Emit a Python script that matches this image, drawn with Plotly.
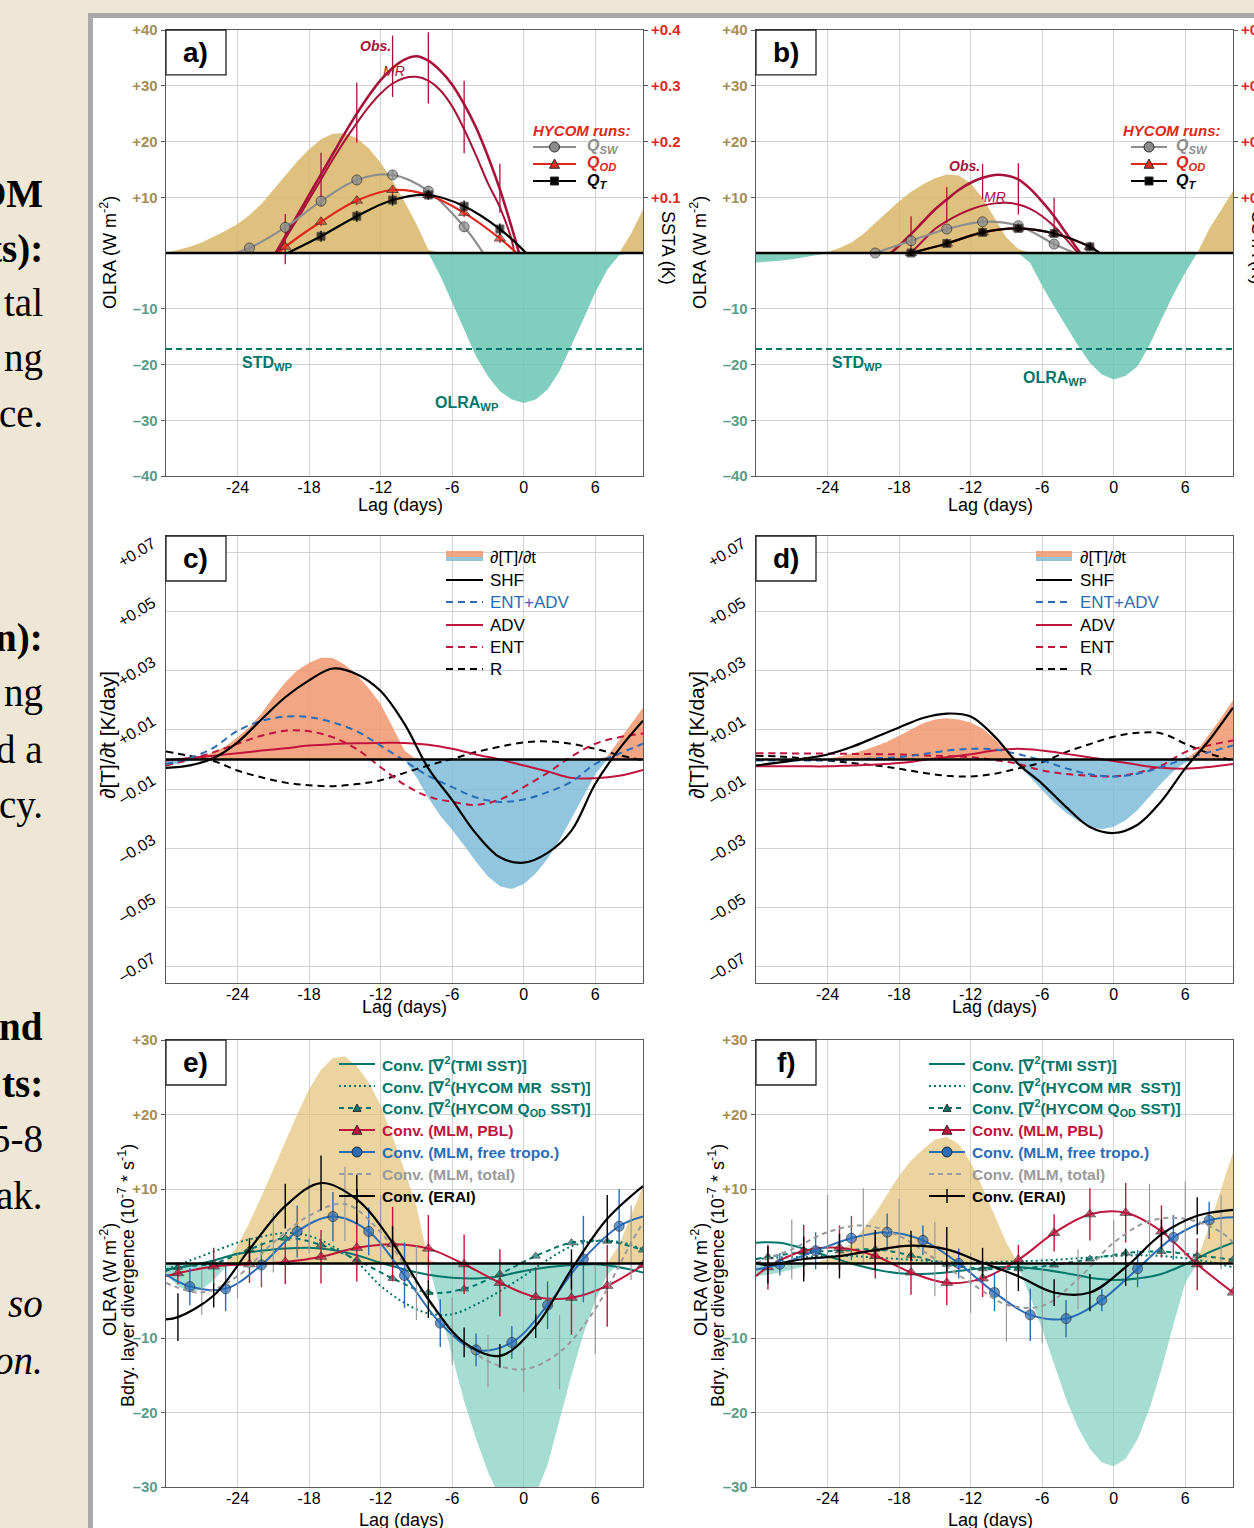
import plotly.graph_objects as go

W, H = 1254, 1528
FONT = "Liberation Sans, Arial, Helvetica, sans-serif"
SERIF = "Liberation Serif, Times New Roman, serif"


def fx(p):
    return p / W


def fy(p):
    return 1 - p / H


# ------------------------------------------------------------------ data
LAG1 = list(range(-30, 11))
LAG2 = list(range(-30, 11, 2))
LAG_TICKS = [-24, -18, -12, -6, 0, 6]
LAG_TICKTEXT = ["-24", "-18", "-12", "-6", "0", "6"]

OLRA_TICKS = [-40, -30, -20, -10, 10, 20, 30, 40]
OLRA_TICKTEXT = ["–40", "–30", "–20", "–10", "+10", "+20", "+30", "+40"]
SSTA_TICKS = [0.1, 0.2, 0.3, 0.4]
SSTA_TICKTEXT = ["+0.1", "+0.2", "+0.3", "+0.4"]
DTDT_TICKS = [-0.07, -0.05, -0.03, -0.01, 0.01, 0.03, 0.05, 0.07]
DTDT_TICKTEXT = ["–0.07", "–0.05", "–0.03", "–0.01", "+0.01", "+0.03", "+0.05", "+0.07"]
CONV_TICKS = [-30, -20, -10, 10, 20, 30]
CONV_TICKTEXT = ["–30", "–20", "–10", "+10", "+20", "+30"]

STD_WP = -17.2

# panel a  (OLRA W m-2, daily, lag -30..10)
olra_a = [0, 0.5, 1.1, 1.9, 2.9, 4.0, 5.2, 6.8, 8.8, 11.3, 13.9, 16.4, 18.6, 20.4,
          21.4, 21.5, 20.6, 18.8, 16.2, 12.9, 9.2, 5.2, 0.6, -4.1, -8.9, -13.7,
          -18.5, -22.1, -24.8, -26.3, -26.9, -26.3, -24.5, -21.2, -16.7, -11.9,
          -7.1, -3.0, -0.4, 3.5, 7.8]
# SSTA (K)
obs_a_x = [-20.8, -20, -19, -18, -17, -16, -15, -14, -13, -12, -11, -10, -9, -8,
           -7, -6, -5, -4, -3, -2, -1, -0.4]
obs_a = [0, .030, .067, .104, .141, .178, .215, .250, .282, .310, .332, .347, .353,
         .345, .327, .302, .267, .225, .173, .114, .045, 0]
mr_a_x = [-20.6, -20, -19, -18, -17, -16, -15, -14, -13, -12, -11, -10, -9, -8,
          -7, -6, -5, -4, -3, -2, -1, -0.8]
mr_a = [0, .025, .060, .096, .132, .168, .202, .233, .262, .286, .304, .314, .316,
        .309, .292, .263, .222, .175, .125, .082, .022, 0]
obs_err_a_x = [-20, -17, -14, -11, -8, -5, -2]
obs_err_a = [.025, .132, .252, .335, .332, .244, .116]
obs_err_a_len = [.045, .048, .054, .055, .064, .065, .044]
qsw_a_x = [-24.2, -23, -20, -17, -14, -11, -8, -5, -3.4]
qsw_a = [0, .009, .046, .093, .131, .140, .111, .047, 0]
qsw_a_err = [0, .006, .008, .008, .008, .008, .008, .008, 0]
qod_a_x = [-20.6, -20, -17, -14, -11, -8, -5, -2, -0.6]
qod_a = [0, .011, .056, .094, .113, .104, .072, .026, 0]
qod_a_err = [0, .01, .008, .008, .008, .008, .008, .008, 0]
qt_a_x = [-19.8, -17, -14, -11, -8, -5, -2, 0.2]
qt_a = [0, .030, .066, .095, .104, .084, .043, 0]
qt_a_err = [0, .010, .010, .010, .008, .010, .010, 0]

# panel b
olra_b = [-1.7, -1.6, -1.4, -1.1, -0.8, -0.4, 0.2, 0.9, 1.9, 3.4, 5.4, 7.4, 9.3, 11.0,
          12.3, 13.4, 14.1, 13.9, 12.5, 9.8, 6.2, 2.8, 0.7, -1.8, -5.9, -9.6, -13.1,
          -16.6, -19.7, -21.8, -22.7, -22.0, -20.3, -16.5, -11.9, -7.5, -3.5, 0.0,
          4.3, 7.8, 11.1]
obs_b_x = [-18.7, -18, -17, -16, -15, -14, -13, -12, -11, -10, -9, -8, -7, -6, -5,
           -4, -3, -2.8]
obs_b = [0, .013, .034, .056, .078, .096, .113, .126, .135, .140, .139, .132, .115,
         .092, .066, .036, .006, 0]
mr_b_x = [-17, -16, -15, -14, -13, -12, -11, -10, -9, -8, -7, -6, -5, -4, -3]
mr_b = [0, .022, .043, .057, .069, .078, .085, .089, .090, .087, .079, .066, .048,
        .025, 0]
obs_err_b_x = [-17, -14, -11, -8, -5]
obs_err_b = [.033, .086, .128, .115, .068]
obs_err_b_len = [.033, .032, .032, .046, .031]
qsw_b_x = [-20, -17, -14, -11, -8, -5, -3.3]
qsw_b = [0, .022, .043, .056, .049, .016, 0]
qsw_b_err = [.004, .006, .006, .006, .006, .006, 0]
qt_b_x = [-17, -14, -11, -8, -5, -2, -1.2]
qt_b = [0, .017, .037, .044, .035, .011, 0]
qt_b_err = [.005, .006, .006, .006, .006, .006, 0]
qod_b_x = qt_b_x
qod_b = qt_b

# panel c  (K/day)
dtdt_c = [-0.002, -0.0015, -0.0005, 0.001, 0.0025, 0.0045, 0.0075, 0.011, 0.0155,
          0.021, 0.026, 0.030, 0.0326, 0.0343, 0.0342, 0.032, 0.0285, 0.024, 0.0187,
          0.011, 0.003, -0.006, -0.013, -0.019, -0.0238, -0.029, -0.0345, -0.0395,
          -0.0428, -0.0437, -0.042, -0.0385, -0.0335, -0.0272, -0.020, -0.0125,
          -0.005, 0.001, 0.0065, 0.012, 0.0175]
shf_c = [-0.0028, -0.002, 0.0005, 0.0058, 0.0135, 0.021, 0.0267, 0.0307, 0.0288,
         0.0231, 0.012, -0.003, -0.0137, -0.025, -0.033, -0.0348, -0.0315, -0.024,
         -0.0082, 0.0035, 0.0131]
entadv_c = [-0.0015, 0.0005, 0.004, 0.0097, 0.013, 0.0145, 0.0143, 0.0125, 0.0095,
            0.0047, -0.0005, -0.0055, -0.0093, -0.0128, -0.0143, -0.0135, -0.011,
            -0.0075, -0.0015, 0.002, 0.0053]
adv_c = [-0.0003, 0.0005, 0.0013, 0.0021, 0.003, 0.0038, 0.0047, 0.0052, 0.0055,
         0.0056, 0.0056, 0.005, 0.0036, 0.0017, 0.0, -0.002, -0.004, -0.0062, -0.0063,
         -0.0055, -0.0035]
ent_c = [-0.002, 0.0, 0.0025, 0.0053, 0.008, 0.0097, 0.0095, 0.0075, 0.0035, -0.0026,
         -0.0085, -0.0125, -0.0143, -0.0153, -0.0135, -0.0093, -0.0045, 0.001, 0.0053,
         0.0075, 0.0088]
r_c = [0.0027, 0.0012, -0.0005, -0.0037, -0.006, -0.0078, -0.0087, -0.009, -0.0083,
       -0.007, -0.0045, -0.002, 0.0002, 0.0025, 0.0043, 0.0058, 0.0061, 0.0053, 0.0036,
       0.0015, -0.0003]

# panel d
dtdt_d = [0.0, 0.0, 0.0, 0.0, 0.0, 0.0, 0.0002, 0.001, 0.002, 0.003, 0.0045, 0.006,
          0.008, 0.010, 0.0122, 0.0135, 0.0139, 0.0135, 0.0125, 0.0105, 0.007, 0.0025,
          -0.002, -0.006, -0.0104, -0.0145, -0.018, -0.0207, -0.0227, -0.0235, -0.0227,
          -0.0205, -0.017, -0.0126, -0.008, -0.004, -0.001, 0.003, 0.0085, 0.014, 0.020]
shf_d = [-0.002, -0.001, 0.0003, 0.0017, 0.0042, 0.0075, 0.0108, 0.014, 0.0155,
         0.0145, 0.0078, -0.0015, -0.0082, -0.016, -0.0228, -0.0248, -0.022, -0.014,
         -0.003, 0.0065, 0.0175]
entadv_d = [-0.0003, -0.0003, -0.0003, -0.0003, 0.0, 0.0004, 0.0008, 0.0018, 0.003,
            0.0036, 0.0034, 0.0018, -0.0003, -0.003, -0.005, -0.0057, -0.0048, -0.0025,
            0.0002, 0.0025, 0.0047]
adv_d = [-0.0023, -0.0023, -0.0023, -0.0023, -0.002, -0.0017, -0.0012, -0.0002, 0.0008,
         0.0018, 0.003, 0.0036, 0.003, 0.0019, 0.0007, -0.0005, -0.0018, -0.0028,
         -0.0031, -0.0025, -0.0015]
ent_d = [0.0021, 0.0021, 0.002, 0.002, 0.0019, 0.0018, 0.0017, 0.0014, 0.0011, 0.0008,
         -0.0002, -0.0015, -0.0037, -0.0049, -0.0055, -0.0057, -0.0045, -0.002, 0.0025,
         0.0048, 0.0064]
r_d = [0.0013, 0.001, 0.0004, -0.0003, -0.0012, -0.002, -0.0031, -0.0045, -0.0055,
       -0.0057, -0.0048, -0.003, -0.0009, 0.0025, 0.0052, 0.0077, 0.009, 0.0088, 0.0053,
       0.002, -0.0003]

# panel e
olra_e = [-1.5, -3.0, -3.9, -3.5, -2.2, -0.5, 2.4, 5.5, 9.0, 12.7, 16.5, 20.0, 23.4,
          26.0, 27.6, 27.8, 26.5, 24.3, 21.2, 17.0, 12.5, 7.7, 0.5, -6.0, -12.5, -18.5,
          -23.5, -28.0, -31.5, -33.0, -33.0, -31.0, -27.0, -21.0, -15.0, -9.5, -5.0,
          -1.5, 2.5, 6.5, 10.4]
LAG3A = [-30, -29, -26, -23, -20, -17, -14, -11, -8, -5, -2, 1, 4, 7, 10]
LAG3B = [-30, -28, -25, -22, -19, -16, -13, -10, -7, -4, -1, 2, 5, 8, 10]
LAG3C = [-30, -27, -24, -21, -18, -15, -12, -9, -6, -3, 0, 3, 6, 9, 10]
erai_e = [-7.5, -7.2, -4.3, 1.9, 7.7, 10.8, 8.6, 2.8, -4.8, -10.6, -12.4, -8.4, -0.8,
          6.0, 10.4]
erai_e_err = [0, 3.2, 1.6, 1.5, 3.0, 3.7, 3.3, 2.2, 2.5, 2.0, 1.6, 1.6, 2.7, 3.2, 0]
free_e = [-1.5, -3.1, -3.4, -0.2, 4.3, 6.3, 4.3, -1.6, -8.0, -11.6, -10.6, -5.6, 0.6,
          5.0, 6.3]
free_e_err = [0, 2.5, 3.0, 3.0, 3.5, 3.3, 3.2, 4.4, 3.2, 2.2, 2.2, 3.2, 5.8, 5.0, 0]
pbl_e = [-1.7, -1.3, -0.4, -0.1, 0.2, 0.9, 2.1, 2.6, 2.0, -0.1, -2.6, -4.5, -4.6,
         -3.0, -0.2]
pbl_e_err = [0, 1.5, 2.5, 2.5, 3.0, 3.6, 4.5, 5.0, 4.5, 4.0, 4.5, 4.0, 5.0, 5.5, 0]
total_e = [-2.6, -3.9, -1.7, 2.8, 6.4, 8.0, 4.2, -2.6, -9.1, -13.1, -14.2, -11.9,
           -6.1, 2.8, 5.5]
total_e_err = [0, 3, 3, 4, 5, 5, 5, 5, 4.5, 3.5, 3, 5, 6, 5, 0]
tmi_e = [-0.8, -0.3, 0.4, 1.3, 1.7, 2.0, 2.1, 1.8, 1.1, 0.1, -0.8, -1.5, -1.9, -2.0,
         -1.7, -1.0, -0.5, -0.2, -0.1, -0.5, -1.2]
mrsst_e = [-0.8, 0.4, 1.6, 2.8, 3.6, 4.1, 3.7, 2.3, 0.2, -3.0, -5.3, -6.7, -6.8, -5.5,
           -3.7, -1.7, 0.5, 2.3, 3.0, 2.9, 1.9]
qodsst_e = [-1.0, -0.5, 0.0, 1.9, 3.4, 2.5, 0.5, -2.0, -3.9, -3.4, -1.4, 1.0, 2.8,
            3.0, 1.8]

# panel f
olra_f = [-1.7, -1.5, -1.2, -0.8, -0.3, 0.1, 0.6, 1.5, 2.8, 4.6, 6.7, 9.2, 11.8, 13.8,
          15.3, 16.6, 17.0, 16.0, 13.6, 10.2, 6.4, 2.8, -0.5, -4.5, -8.8, -13.6, -18.2,
          -22.0, -24.9, -26.7, -27.2, -26.2, -23.6, -19.5, -14.2, -8.2, -2.6, 0.4, 5.0,
          10.0, 14.9]
erai_f = [0.1, -0.2, 0.6, 1.0, 1.8, 2.4, 1.9, 0.1, -1.7, -3.9, -3.9, -0.5, 3.9, 6.4,
          7.2]
erai_f_err = [0, 2.5, 3.0, 3.0, 2.7, 2.0, 3.0, 2.0, 2.0, 1.8, 2.5, 2.5, 2.0, 2.5, 0]
free_f = [-0.8, -0.1, 1.7, 3.4, 4.2, 3.1, 0.0, -3.9, -6.9, -7.4, -4.9, -0.7, 3.5, 5.8,
          6.2]
free_f_err = [0, 1.5, 2.5, 3.0, 2.5, 2.0, 2.0, 2.5, 3.5, 2.5, 1.5, 2.5, 3.0, 2.5, 0]
pbl_f = [-1.7, -0.5, 1.7, 2.1, 1.0, -1.2, -2.6, -2.0, 0.5, 4.1, 6.6, 6.8, 4.3, -0.1,
         -3.9]
pbl_f_err = [0, 3.0, 3.5, 3.0, 3.0, 3.0, 3.0, 2.5, 2.0, 2.5, 3.5, 4.0, 3.5, 3.5, 0]
total_f = [0.1, 1.9, 4.2, 5.1, 3.7, 0.6, -2.6, -5.5, -5.7, -2.1, 2.8, 5.7, 6.0, 4.2,
           2.8]
total_f_err = [0, 4, 5, 5, 5, 5, 4, 5, 5, 4, 3, 5, 5, 5, 0]
tmi_f = [2.8, 2.8, 2.0, 1.0, 0.0, -0.8, -1.3, -1.4, -1.2, -0.8, -0.5, -0.5, -0.8, -1.3,
         -1.9, -2.2, -2.0, -1.4, -0.1, 1.5, 2.8]
mrsst_f = [0.6, 0.8, 0.9, 1.0, 1.0, 0.8, 0.6, 0.4, 0.2, 0.1, 0.2, 0.3, 0.4, 0.6, 0.8,
           1.0, 1.1, 1.0, 0.7, 0.2, -0.5]
qodsst_f = [0.6, 0.9, 1.5, 1.7, 1.9, 1.1, -0.1, -0.7, -0.7, -0.2, 0.6, 1.4, 1.6, 1.1,
            0.5]

# ------------------------------------------------------------------ style
TAN = "rgba(216,182,103,0.85)"
TEALF = "rgba(106,197,179,0.85)"
TAN_E = "rgba(222,185,102,0.62)"
TEAL_E = "rgba(110,200,183,0.62)"
ORANGE = "rgba(241,150,110,0.85)"
BLUEF = "rgba(127,188,217,0.85)"
DARKRED = "#A8123A"
RED = "#E0281C"
GRAYL = "#8E8E8E"
TEALL = "#00766A"
PBLRED = "#C0143C"
BLUEL = "#2A6CB5"
TOTGRAY = "#9A9A9A"
TANTXT = "#A68D58"
TEALTXT = "#5A9C8C"
GRID = "#D2D2D2"
FRAME = "#5A5A5A"
DASH = "7px,5px"

fig = go.Figure()


def sizes(n, s, first=False, last=False):
    out = [s] * n
    if not first:
        out[0] = 0
    if not last:
        out[-1] = 0
    return out


def fill_pair(vals, xa, ya, pos_col, neg_col):
    pos = [max(v, 0.0) for v in vals]
    neg = [min(v, 0.0) for v in vals]
    for ys, col in ((pos, pos_col), (neg, neg_col)):
        fig.add_trace(go.Scatter(x=LAG1, y=ys, mode="lines", line=dict(width=0),
                                 fill="tozeroy", fillcolor=col, xaxis=xa, yaxis=ya,
                                 hoverinfo="skip", showlegend=False))


def curve(x, y, xa, ya, color, width=2.0, dash=None, symbol=None, msize=None,
          mcolor=None, err=None, ecolor=None, eth=1.4):
    kw = dict(x=x, y=y, xaxis=xa, yaxis=ya,
              mode="lines+markers" if symbol else "lines",
              line=dict(color=color, width=width, dash=dash, shape="spline"),
              hoverinfo="skip", showlegend=False)
    if symbol:
        kw["marker"] = dict(symbol=symbol, size=msize, color=mcolor or color,
                            line=dict(color="#2a2a2a", width=1))
    if err is not None:
        kw["error_y"] = dict(type="data", array=err, visible=True,
                             color=ecolor or color, thickness=eth, width=0)
    fig.add_trace(go.Scatter(**kw))


def errbars(x, y, e, xa, ya, color, thickness=1.3):
    fig.add_trace(go.Scatter(x=x, y=y, xaxis=xa, yaxis=ya, mode="markers",
                             marker=dict(size=1, color="rgba(0,0,0,0)"),
                             error_y=dict(type="data", array=e, visible=True,
                                          color=color, thickness=thickness, width=0),
                             hoverinfo="skip", showlegend=False))


def hline(val, xa, ya, color, dash):
    fig.add_trace(go.Scatter(x=[-30, 10], y=[val, val], xaxis=xa, yaxis=ya,
                             mode="lines", line=dict(color=color, width=2, dash=dash),
                             hoverinfo="skip", showlegend=False))


# ---------------- panels a, b
for (xa, ya, ys, olra, obs_x, obs, mr_x, mr, ex, ey, el, first,
     qsw_x, qsw, qswe, qod_x, qod, qode, qt_x, qt, qte) in [
    ("x", "y", "y7", olra_a, obs_a_x, obs_a, mr_a_x, mr_a, obs_err_a_x, obs_err_a,
     obs_err_a_len, False, qsw_a_x, qsw_a, qsw_a_err, qod_a_x, qod_a, qod_a_err,
     qt_a_x, qt_a, qt_a_err),
    ("x2", "y2", "y8", olra_b, obs_b_x, obs_b, mr_b_x, mr_b, obs_err_b_x, obs_err_b,
     obs_err_b_len, True, qsw_b_x, qsw_b, qsw_b_err, qod_b_x, qod_b, qt_b_err,
     qt_b_x, qt_b, qt_b_err),
]:
    fill_pair(olra, xa, ya, TAN, TEALF)
    hline(STD_WP, xa, ya, TEALL, "6px,4px")
    curve(obs_x, obs, xa, ys, DARKRED, width=2.6)
    curve(mr_x, mr, xa, ys, DARKRED, width=2.0)
    errbars(ex, ey, el, xa, ys, DARKRED)
    curve(qsw_x, qsw, xa, ys, GRAYL, width=2.2, symbol="circle",
          msize=sizes(len(qsw_x), 10, first=first), mcolor="#8a8a8a", err=qswe)
    curve(qod_x, qod, xa, ys, RED, width=2.2, symbol="triangle-up",
          msize=sizes(len(qod_x), 10, first=first), mcolor="#E0301F", err=qode)
    curve(qt_x, qt, xa, ys, "black", width=2.2, symbol="square",
          msize=sizes(len(qt_x), 8, first=first), err=qte)

# ---------------- panels c, d
for xa, ya, dt, shf, ea, adv, ent, r in [
    ("x3", "y3", dtdt_c, shf_c, entadv_c, adv_c, ent_c, r_c),
    ("x4", "y4", dtdt_d, shf_d, entadv_d, adv_d, ent_d, r_d),
]:
    fill_pair(dt, xa, ya, ORANGE, BLUEF)
    curve(LAG2, r, xa, ya, "black", width=2, dash=DASH)
    curve(LAG2, ent, xa, ya, PBLRED, width=2, dash=DASH)
    curve(LAG2, adv, xa, ya, PBLRED, width=2)
    curve(LAG2, ea, xa, ya, BLUEL, width=2, dash=DASH)
    curve(LAG2, shf, xa, ya, "black", width=2.2)

# ---------------- panels e, f
for (xa, ya, olra, tmi, mrs, qods, pbl, pble, free, freee, tot, tote, erai,
     eraie) in [
    ("x5", "y5", olra_e, tmi_e, mrsst_e, qodsst_e, pbl_e, pbl_e_err, free_e, free_e_err,
     total_e, total_e_err, erai_e, erai_e_err),
    ("x6", "y6", olra_f, tmi_f, mrsst_f, qodsst_f, pbl_f, pbl_f_err, free_f, free_f_err,
     total_f, total_f_err, erai_f, erai_f_err),
]:
    fill_pair(olra, xa, ya, TAN_E, TEAL_E)
    curve(LAG2, tmi, xa, ya, TEALL, width=2)
    curve(LAG2, mrs, xa, ya, TEALL, width=2, dash="2px,3px")
    curve(LAG3A, qods, xa, ya, TEALL, width=2, dash="5px,4px", symbol="triangle-up",
          msize=sizes(len(LAG3A), 8, last=True), mcolor=TEALL)
    curve(LAG3A, pbl, xa, ya, PBLRED, width=2, symbol="triangle-up",
          msize=sizes(len(LAG3A), 10, last=True), err=pble)
    curve(LAG3B, free, xa, ya, BLUEL, width=2, symbol="circle",
          msize=sizes(len(LAG3B), 10), err=freee)
    curve(LAG3C, tot, xa, ya, TOTGRAY, width=2, dash="5px,4px", err=tote, eth=1.2)
    curve(LAG3A, erai, xa, ya, "black", width=2.2, err=eraie)

# ------------------------------------------------------------------ axes
XA = [fx(166), fx(643)]
XB = [fx(756), fx(1233)]
YA = [fy(476), fy(30)]
YC = [fy(983), fy(536)]
YE = [fy(1487), fy(1040)]


def col_ticks(texts, vals, pos_col, neg_col):
    return [f"<b><span style='color:{pos_col if v > 0 else neg_col}'>{t}</span></b>"
            for t, v in zip(texts, vals)]


def xax(domain, anchor):
    return dict(domain=domain, anchor=anchor, range=[-30, 10], tickmode="array",
                tickvals=LAG_TICKS, ticktext=LAG_TICKTEXT, showgrid=True,
                gridcolor=GRID, gridwidth=1, zeroline=False, showline=True,
                linecolor=FRAME, linewidth=1.3, mirror=True, ticks="",
                automargin=False, ticklabelstandoff=-4,
                tickfont=dict(family=FONT, size=16, color="black"))


def yax(domain, anchor, rng, vals, texts, angle=0, size=15, ticklen=4,
        tickcolor=FRAME, shift=0):
    return dict(domain=domain, anchor=anchor, range=rng, tickmode="array",
                tickvals=vals, ticktext=texts, tickangle=angle, showgrid=True,
                gridcolor=GRID, gridwidth=1, zeroline=False, showline=True,
                linecolor=FRAME, linewidth=1.3, mirror=True, ticks="outside",
                ticklen=ticklen, tickcolor=tickcolor, automargin=False,
                ticklabelshift=shift,
                tickfont=dict(family=FONT, size=size, color="black"))


olra_tt = col_ticks(OLRA_TICKTEXT, OLRA_TICKS, TANTXT, TEALTXT)
conv_tt = col_ticks(CONV_TICKTEXT, CONV_TICKS, TANTXT, TEALTXT)
ssta_tt = [f"<b><span style='color:{RED}'>{t}</span></b>" for t in SSTA_TICKTEXT]


def sstax(overlay, anchor):
    return dict(overlaying=overlay, anchor=anchor, side="right", range=[-0.4, 0.4],
                tickmode="array", tickvals=SSTA_TICKS, ticktext=ssta_tt,
                showgrid=False, zeroline=False, showline=False, ticks="outside",
                ticklen=4, tickcolor=FRAME, automargin=False,
                tickfont=dict(family=FONT, size=15))


fig.update_layout(
    width=W, height=H, autosize=False, margin=dict(l=0, r=0, t=0, b=0, pad=0,
                                                   autoexpand=False),
    paper_bgcolor="#EEE7D5", plot_bgcolor="white", hovermode=False,
    showlegend=False, font=dict(family=FONT, color="black"),
    xaxis=xax(XA, "y"), yaxis=yax(YA, "x", [-40, 40], OLRA_TICKS, olra_tt),
    xaxis2=xax(XB, "y2"), yaxis2=yax(YA, "x2", [-40, 40], OLRA_TICKS, olra_tt),
    xaxis3=xax(XA, "y3"),
    yaxis3=yax(YC, "x3", [-0.0754, 0.0754], DTDT_TICKS, DTDT_TICKTEXT, angle=-32,
               size=16, ticklen=9, tickcolor="rgba(0,0,0,0)", shift=-10),
    xaxis4=xax(XB, "y4"),
    yaxis4=yax(YC, "x4", [-0.0754, 0.0754], DTDT_TICKS, DTDT_TICKTEXT, angle=-32,
               size=16, ticklen=9, tickcolor="rgba(0,0,0,0)", shift=-10),
    xaxis5=xax(XA, "y5"), yaxis5=yax(YE, "x5", [-30, 30], CONV_TICKS, conv_tt),
    xaxis6=xax(XB, "y6"), yaxis6=yax(YE, "x6", [-30, 30], CONV_TICKS, conv_tt),
    yaxis7=sstax("y", "x"), yaxis8=sstax("y2", "x2"),
)

# ------------------------------------------------------------------ shapes
shapes = [dict(type="rect", xref="paper", yref="paper", x0=fx(90.5), x1=fx(1300),
               y0=-0.05, y1=fy(15.5), line=dict(color="#A9A9A9", width=5),
               fillcolor="white", layer="below")]
panels = [("x", "y", "a)"), ("x2", "y2", "b)"), ("x3", "y3", "c)"),
          ("x4", "y4", "d)"), ("x5", "y5", "e)"), ("x6", "y6", "f)")]
for xa, ya, _ in panels:
    shapes.append(dict(type="line", xref=f"{xa} domain", yref=ya, x0=0, x1=1, y0=0,
                       y1=0, line=dict(color="black", width=2.5), layer="above"))
    shapes.append(dict(type="rect", xref=f"{xa} domain", yref=f"{ya} domain", x0=0,
                       x1=60 / 477, y0=1 - 45 / 447, y1=1,
                       line=dict(color="#222", width=1.3), fillcolor="white",
                       layer="above"))

ann = []


def txt(x, y, text, size=18, angle=0, color="black", xanchor="center",
        yanchor="middle", family=FONT, xref="paper", yref="paper"):
    ann.append(dict(xref=xref, yref=yref, x=x, y=y, text=text, showarrow=False,
                    textangle=angle, font=dict(size=size, family=family, color=color),
                    xanchor=xanchor, yanchor=yanchor))


# ---------------- hand-built legends (pixel placement)
def leg_line(x0, x1, y, color, width=2.2, dash=None):
    shapes.append(dict(type="line", xref="paper", yref="paper", x0=fx(x0), x1=fx(x1),
                       y0=fy(y), y1=fy(y), line=dict(color=color, width=width, dash=dash),
                       layer="above"))


def leg_marker(cx, cy, symbol, size, color, outline="#2a2a2a"):
    r = size / 2
    base = dict(xref="paper", yref="paper", fillcolor=color,
                line=dict(color=outline, width=1), layer="above")
    if symbol == "circle":
        shapes.append(dict(type="circle", x0=fx(cx - r), x1=fx(cx + r), y0=fy(cy + r),
                           y1=fy(cy - r), **base))
    elif symbol == "square":
        shapes.append(dict(type="rect", x0=fx(cx - r), x1=fx(cx + r), y0=fy(cy + r),
                           y1=fy(cy - r), **base))
    else:
        path = (f"M {fx(cx - r)},{fy(cy + r * 0.85)} L {fx(cx + r)},{fy(cy + r * 0.85)} "
                f"L {fx(cx)},{fy(cy - r)} Z")
        shapes.append(dict(type="path", path=path, **base))


def legend_block(x0, x1, xt, rows, size, weight_b=False, italic=False):
    for y, color, dash, sym, msz, mcol, label, tcol, extra in rows:
        if color == "patch":
            shapes.append(dict(type="rect", xref="paper", yref="paper", x0=fx(x0),
                               x1=fx(x1), y0=fy(y), y1=fy(y - 6), fillcolor=ORANGE,
                               line=dict(width=0), layer="above"))
            shapes.append(dict(type="rect", xref="paper", yref="paper", x0=fx(x0),
                               x1=fx(x1), y0=fy(y + 4), y1=fy(y), fillcolor=BLUEF,
                               line=dict(width=0), layer="above"))
        else:
            leg_line(x0, x1, y, color, dash=dash)
            if extra == "vbar":
                shapes.append(dict(type="line", xref="paper", yref="paper",
                                   x0=fx((x0 + x1) / 2), x1=fx((x0 + x1) / 2),
                                   y0=fy(y - 7), y1=fy(y + 7),
                                   line=dict(color=color, width=1.5), layer="above"))
            if sym:
                leg_marker((x0 + x1) / 2, y, sym, msz, mcol)
        t = f"<span style='color:{tcol}'>{label}</span>"
        if italic:
            t = f"<i>{t}</i>"
        if weight_b:
            t = f"<b>{t}</b>"
        txt(fx(xt), fy(y), t, size=size, xanchor="left")


# panel a / b legends
for lx0, lx1, lxt, tx in [(533, 576, 585, 531), (1131, 1167, 1174, 1121)]:
    txt(fx(tx), fy(130), "<b><i>HYCOM runs:</i></b>", size=15, color=RED,
        xanchor="left")
    legend_block(lx0, lx1, lxt, [
        (147, GRAYL, None, "circle", 10, "#8a8a8a", "Q<sub>SW</sub>", GRAYL, None),
        (164, RED, None, "triangle", 10, "#E0301F", "Q<sub>OD</sub>", RED, None),
        (181, "black", None, "square", 8, "black", "Q<sub>T</sub>", "black", None),
    ], size=16, weight_b=True, italic=True)

# panel c / d legends
for lx0, lx1, lxt in [(446, 483, 488), (1036, 1072, 1078)]:
    legend_block(lx0, lx1, lxt, [
        (557, "patch", None, None, 0, None, "∂[T]/∂t", "black", None),
        (580, "black", None, None, 0, None, "SHF", "black", None),
        (602, BLUEL, DASH, None, 0, None, "ENT+ADV", BLUEL, None),
        (625, PBLRED, None, None, 0, None, "ADV", "black", None),
        (647, PBLRED, DASH, None, 0, None, "ENT", "black", None),
        (669, "black", DASH, None, 0, None, "R", "black", None),
    ], size=17)

# panel e / f legends
for lx0, lx1, lxt in [(339, 375, 380), (929, 965, 970)]:
    legend_block(lx0, lx1, lxt, [
        (1064, TEALL, None, None, 0, None, "Conv. [∇<sup>2</sup>(TMI SST)]", TEALL, None),
        (1086, TEALL, "2px,3px", None, 0, None,
         "Conv. [∇<sup>2</sup>(HYCOM MR  SST)]", TEALL, None),
        (1108, TEALL, "5px,4px", "triangle", 8, TEALL,
         "Conv. [∇<sup>2</sup>(HYCOM Q<sub>OD</sub> SST)]", TEALL, None),
        (1130, PBLRED, None, "triangle", 10, PBLRED, "Conv. (MLM, PBL)", PBLRED, None),
        (1152, BLUEL, None, "circle", 10, BLUEL, "Conv. (MLM, free tropo.)", BLUEL,
         None),
        (1174, TOTGRAY, "5px,4px", None, 0, None, "Conv. (MLM, total)", TOTGRAY, None),
        (1196, "black", None, None, 0, None, "Conv. (ERAI)", "black", "vbar"),
    ], size=15.5, weight_b=True)

fig.update_layout(shapes=shapes)

# ---------------- panel labels
for xa, ya, lab in panels:
    ann.append(dict(xref=f"{xa} domain", yref=f"{ya} domain", x=30 / 477,
                    y=1 - 22.5 / 447, text=f"<b>{lab}</b>", showarrow=False,
                    font=dict(size=28, family=FONT, color="black"),
                    xanchor="center", yanchor="middle"))

# axis titles
for cx, cy in [(400, 505), (990, 505), (404, 1007), (994, 1007), (401, 1520),
               (990, 1520)]:
    txt(fx(cx), fy(cy), "Lag (days)", size=18)
txt(fx(108), fy(253), "OLRA (W m<sup>-2</sup>)", angle=-90)
txt(fx(698), fy(253), "OLRA (W m<sup>-2</sup>)", angle=-90)
txt(fx(668), fy(248), "SSTA (K)", angle=90)
txt(fx(1258), fy(248), "SSTA (K)", angle=90)
txt(fx(108), fy(735), "∂[T]/∂t [K/day]", size=21, angle=-90)
txt(fx(697), fy(735), "∂[T]/∂t [K/day]", size=21, angle=-90)
txt(fx(108), fy(1280), "OLRA (W m<sup>-2</sup>)", angle=-90)
txt(fx(126), fy(1276), "Bdry. layer divergence (10<sup>-7</sup> * s<sup>-1</sup>)",
    angle=-90)
txt(fx(699), fy(1280), "OLRA (W m<sup>-2</sup>)", angle=-90)
txt(fx(716), fy(1276), "Bdry. layer divergence (10<sup>-7</sup> * s<sup>-1</sup>)",
    angle=-90)

# in-plot labels (panel a, b)
txt(-12.4, 37.2, "<b><i>Obs.</i></b>", size=14, color=DARKRED, xref="x", yref="y")
txt(-10.9, 32.7, "<i>MR</i>", size=14, color=DARKRED, xref="x", yref="y")
txt(-12.5, 15.6, "<b><i>Obs.</i></b>", size=14, color=DARKRED, xref="x2", yref="y2")
txt(-10.0, 10.0, "<i>MR</i>", size=14, color=DARKRED, xref="x2", yref="y2")
txt(-21.5, -19.8, "<b>STD<sub>WP</sub></b>", size=16, color=TEALL, xref="x", yref="y")
txt(-4.8, -27.0, "<b>OLRA<sub>WP</sub></b>", size=16, color=TEALL, xref="x", yref="y")
txt(-21.5, -19.8, "<b>STD<sub>WP</sub></b>", size=16, color=TEALL, xref="x2", yref="y2")
txt(-4.9, -22.6, "<b>OLRA<sub>WP</sub></b>", size=16, color=TEALL, xref="x2",
    yref="y2")

# cropped poster text on the left
left_text = [("<b>OM</b>", 205), ("<b>ts):</b>", 261), ("tal", 315), ("ng", 370),
             ("ce.", 425), ("<b>n):</b>", 650), ("ng", 705), ("d a", 761),
             ("cy.", 817), ("<b>nd</b>", 1038), ("<b>ts:</b>", 1095), ("5-8", 1150),
             ("ak.", 1207), ("<i>so</i>", 1315), ("<i>on.</i>", 1372)]
for t, base in left_text:
    txt(fx(45), fy(base - 12), t, size=39, family=SERIF, xanchor="right")

fig.update_layout(annotations=ann)

fig.write_html(
    "out.html",
    config={"displayModeBar": False, "staticPlot": True},
    post_script=(
        "var s=document.createElement('style');"
        "s.innerHTML='html,body{margin:0!important;padding:0!important;"
        "overflow:hidden!important;width:1254px;height:1528px;}';"
        "document.head.appendChild(s);"
        "var gd=document.getElementById('{plot_id}');"
        "gd.style.position='fixed';gd.style.left='0px';gd.style.top='0px';"
    ),
)
